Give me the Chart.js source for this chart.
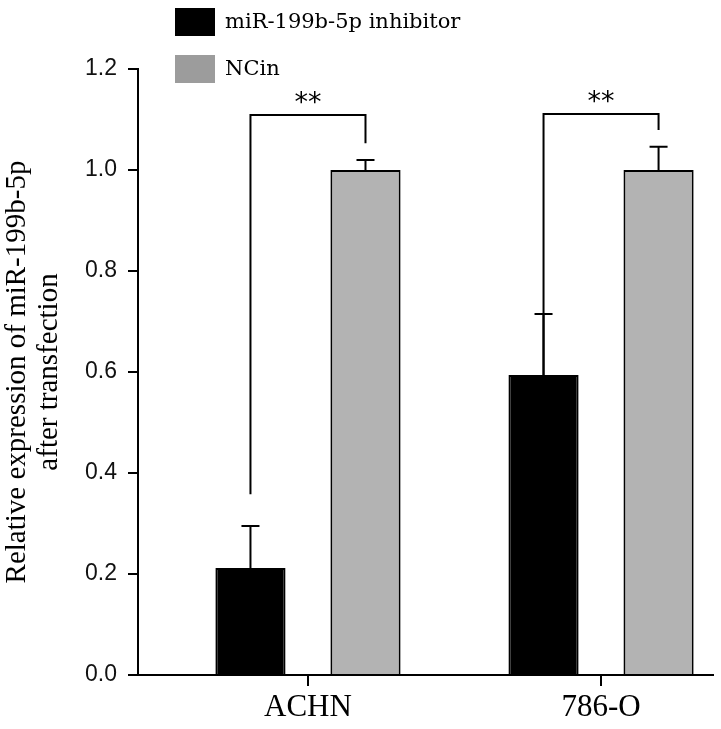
<!DOCTYPE html>
<html>
<head>
<meta charset="utf-8">
<script src="https://cdn.jsdelivr.net/npm/chart.js@4"></script>
<style>
  html, body { margin: 0; padding: 0; background: #ffffff; }
  #wrap { width: 721px; height: 729px; position: relative; }
</style>
</head>
<body>
<div id="wrap"><canvas id="chart"></canvas></div>
<script>
// ---- data ----
const categories = ['ACHN', '786-O'];
const seriesNames = ['miR-199b-5p inhibitor', 'NCin'];
const inhibitorValues = [0.212, 0.594];
const inhibitorErrors = [0.083, 0.121];
const ncinValues = [1.0, 1.0];
const ncinErrors = [0.020, 0.046];
const yTickValues = [0.0, 0.2, 0.4, 0.6, 0.8, 1.0, 1.2];
const sigLabels = ['**', '**'];
const sigBracketTop = [1.109, 1.111];
const sigLeftBottom = [0.358, 0.394];
const sigRightBottom = [1.053, 1.079];
const yTitleLines = ['Relative expression of miR-199b-5p', 'after transfection'];

// ---- styles ----
const SERIF = '"Liberation Serif", "Times New Roman", serif';
const SANS = '"Liberation Sans", Arial, sans-serif';
const barColors = ['#000000', '#b3b3b3'];
const legendColors = ['#000000', '#9c9c9c'];

const toPoints = (vals) => vals.map((v, i) => ({ x: i + 1, y: v }));

const errorBarPlugin = {
  id: 'errorBars',
  afterDatasetsDraw(chart) {
    const ctx = chart.ctx;
    const ys = chart.scales.y;
    chart.data.datasets.forEach((ds, di) => {
      const meta = chart.getDatasetMeta(di);
      meta.data.forEach((bar, i) => {
        const top = ys.getPixelForValue(ds.data[i].y + ds.errors[i]);
        ctx.save();
        ctx.strokeStyle = '#000';
        ctx.lineWidth = 2;
        ctx.beginPath();
        ctx.moveTo(bar.x, bar.y);
        ctx.lineTo(bar.x, top);
        ctx.moveTo(bar.x - 9, top);
        ctx.lineTo(bar.x + 9, top);
        ctx.stroke();
        ctx.restore();
      });
    });
  }
};

const bracketPlugin = {
  id: 'sigBrackets',
  afterDatasetsDraw(chart) {
    const ctx = chart.ctx;
    const ys = chart.scales.y;
    const m0 = chart.getDatasetMeta(0), m1 = chart.getDatasetMeta(1);
    categories.forEach((c, i) => {
      const xl = m0.data[i].x, xr = m1.data[i].x;
      const yt = ys.getPixelForValue(sigBracketTop[i]);
      ctx.save();
      ctx.strokeStyle = '#000';
      ctx.lineWidth = 2;
      ctx.beginPath();
      ctx.moveTo(xl, ys.getPixelForValue(sigLeftBottom[i]));
      ctx.lineTo(xl, yt);
      ctx.lineTo(xr, yt);
      ctx.lineTo(xr, ys.getPixelForValue(sigRightBottom[i]));
      ctx.stroke();
      ctx.fillStyle = '#000';
      ctx.font = '27px "DejaVu Sans", sans-serif';
      ctx.textAlign = 'center';
      ctx.textBaseline = 'middle';
      ctx.fillText(sigLabels[i], (xl + xr) / 2, yt - 11);
      ctx.restore();
    });
  }
};

// small downward tick marks at the category positions of the x axis
const categoryTickPlugin = {
  id: 'categoryTicks',
  afterDraw(chart) {
    const ctx = chart.ctx;
    const xs = chart.scales.x;
    const yBase = chart.chartArea.bottom;
    ctx.save();
    ctx.fillStyle = '#000';
    categories.forEach((c, i) => {
      const px = Math.round(xs.getPixelForValue(i + 1));
      ctx.fillRect(px - 1, yBase, 2, 11);
    });
    ctx.restore();
  }
};

const legendPlugin = {
  id: 'boxLegend',
  afterDraw(chart, args, opts) {
    const ctx = chart.ctx;
    seriesNames.forEach((name, i) => {
      const top = opts.top + i * opts.rowGap;
      ctx.save();
      ctx.fillStyle = legendColors[i];
      ctx.fillRect(opts.left, top, opts.boxW, opts.boxH);
      ctx.fillStyle = '#000';
      ctx.font = opts.font;
      ctx.textAlign = 'left';
      ctx.textBaseline = 'middle';
      ctx.fillText(name, opts.left + opts.boxW + 10, top + opts.boxH / 2 + 1);
      ctx.restore();
    });
  }
};

new Chart(document.getElementById('chart'), {
  type: 'bar',
  data: {
    datasets: [
      { label: seriesNames[0], data: toPoints(inhibitorValues), errors: inhibitorErrors,
        backgroundColor: barColors[0], borderColor: '#000', borderWidth: 2 },
      { label: seriesNames[1], data: toPoints(ncinValues), errors: ncinErrors,
        backgroundColor: barColors[1], borderColor: '#000', borderWidth: 2 }
    ]
  },
  plugins: [errorBarPlugin, bracketPlugin, categoryTickPlugin, legendPlugin],
  options: {
    responsive: true,
    maintainAspectRatio: false,
    animation: false,
    categoryPercentage: 0.785,
    barPercentage: 0.61,
    layout: { padding: { top: 69, right: 8, left: 0, bottom: 0 } },
    plugins: {
      legend: { display: false },
      tooltip: { enabled: false },
      boxLegend: { left: 175, top: 8, rowGap: 47, boxW: 40, boxH: 28, font: '21px "DejaVu Serif", serif' }
    },
    scales: {
      x: {
        type: 'linear',
        offset: false,
        min: 0.42,
        max: 2.382,
        afterBuildTicks: (s) => { s.ticks = categories.map((c, i) => ({ value: i + 1 })); },
        afterFit: (s) => { s.height = 54; },
        ticks: {
          callback: (v) => categories[Math.round(v) - 1] || '',
          font: { family: SERIF, size: 31 },
          color: '#000',
          padding: 4,
          maxRotation: 0,
          autoSkip: false
        },
        grid: { offset: false, drawOnChartArea: false, drawTicks: true, tickLength: 10, color: '#000', lineWidth: 2 },
        border: { display: true, color: '#000', width: 2 }
      },
      y: {
        min: 0,
        max: 1.2,
        afterBuildTicks: (s) => { s.ticks = yTickValues.map((v) => ({ value: v })); },
        afterFit: (s) => { s.width = 138; },
        ticks: {
          callback: (v) => Number(v).toFixed(1),
          font: { family: SANS, size: 23 },
          color: '#111',
          padding: 11
        },
        grid: { drawOnChartArea: false, drawTicks: true, tickLength: 10, color: '#000', lineWidth: 2 },
        border: { display: true, color: '#000', width: 2 },
        title: {
          display: true,
          text: yTitleLines,
          font: { family: SERIF, size: 29, lineHeight: 1.08 },
          color: '#000',
          padding: { top: 2, bottom: 0 }
        }
      }
    }
  }
});
</script>
</body>
</html>
